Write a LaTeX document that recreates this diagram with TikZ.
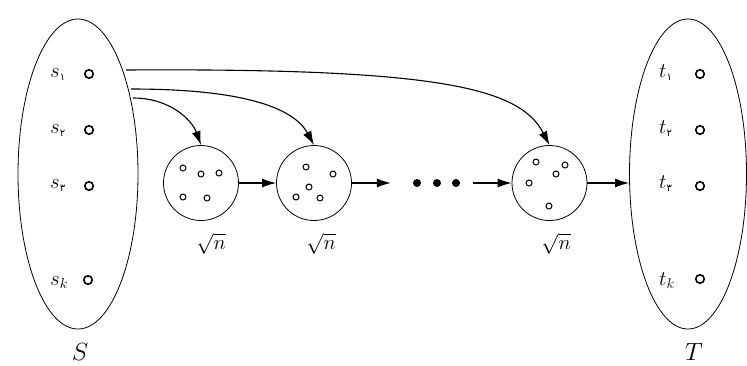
\documentclass[tikz,border=0pt]{standalone}
\usepackage{fontspec}
\newfontfamily\fa[Script=Arabic]{DejaVu Sans}
\usetikzlibrary{shapes.geometric,arrows.meta}
\newcommand{\pd}[1]{\hbox{\fa\fontsize{10}{10}\selectfont #1}}
\begin{document}
\begin{tikzpicture}[x=1pt,y=-1pt,
  pt/.style={circle,draw,line width=1.6pt,minimum size=8.5pt,inner sep=0},
  small/.style={circle,draw,line width=1pt,minimum size=6pt,inner sep=0},
  blob/.style={circle,draw,line width=0.8pt,minimum size=75pt,inner sep=0},
  big/.style={ellipse,draw,line width=0.8pt,minimum width=120pt,minimum height=310pt,inner sep=0},
  lab/.style={anchor=base west,inner sep=0,font=\huge},
  arr/.style={-{Latex[length=14pt,width=9pt]},line width=1.1pt},
  dotn/.style={circle,fill,minimum size=8pt,inner sep=0}]
\useasboundingbox (0,0) rectangle (747,365);
% ellipses
\node[big] (S) at (78,174) {};
\node[big,minimum width=117pt] (T) at (688,174) {};
\node[font=\Huge,inner sep=0] (Sl) at (80,352) {$S$};
\node[font=\Huge,inner sep=0] (Tl) at (694,352) {$T$};
% sources
\node[pt] (s1) at (89,74) {};
\node[pt] (s2) at (89,130) {};
\node[pt] (s3) at (89,186) {};
\node[pt] (sk) at (88,280) {};
\node[lab] (s1l) at (50,77) {$s_{\pd{۱}}$};
\node[lab] (s2l) at (50,133) {$s_{\pd{۲}}$};
\node[lab] (s3l) at (50,188) {$s_{\pd{۳}}$};
\node[lab] (skl) at (50,285) {$s_k$};
% sinks
\node[pt] (t1) at (700,74) {};
\node[pt] (t2) at (700,130) {};
\node[pt] (t3) at (700,186) {};
\node[pt] (tk) at (700,279) {};
\node[lab] (t1l) at (659,77) {$t_{\pd{۱}}$};
\node[lab] (t2l) at (659,133) {$t_{\pd{۲}}$};
\node[lab] (t3l) at (659,188) {$t_{\pd{۳}}$};
\node[lab] (tkl) at (659,285) {$t_k$};
% groups
\node[blob] (c1) at (201,183) {};
\node[blob] (c2) at (314,183) {};
\node[blob] (c3) at (549.5,183) {};
\node[font=\huge,inner sep=0] (n1) at (211,244) {$\sqrt{n}$};
\node[font=\huge,inner sep=0] (n2) at (321,244) {$\sqrt{n}$};
\node[font=\huge,inner sep=0] (n3) at (556,244) {$\sqrt{n}$};
% inner points
\foreach \p/\q in {183/168,201/174,219/173,183/197,207/198,
                   306/167,333/174,309/187,296/197,320/198,
                   536/162,565/165,556/174,529/183,549/206}
  \node[small] at (\p,\q) {};
% ellipsis dots
\node[dotn] (d1) at (417,183) {};
\node[dotn] (d2) at (437,183) {};
\node[dotn] (d3) at (456,183) {};
% arrow start points on S
\coordinate (a3) at (126,70);
\coordinate (a2) at (131,89);
\coordinate (a1) at (133,98);
% arrows
\draw[arr] (c1.east) -- (c2.west);
\draw[arr,shorten >=22pt] (c2.east) -- (d1.west);
\draw[arr,shorten <=13pt] (d3.east) -- (c3.west);
\draw[arr] (c3.east) -- (c3.east -| T.west);
\draw[arr] (a1) .. controls (170,98) and (192,120) .. (c1.north);
\draw[arr] (a2) .. controls (250,89) and (295,110) .. (c2.north);
\draw[arr] (a3) .. controls (440,68) and (520,88) .. (c3.north);
\end{tikzpicture}
\end{document}
